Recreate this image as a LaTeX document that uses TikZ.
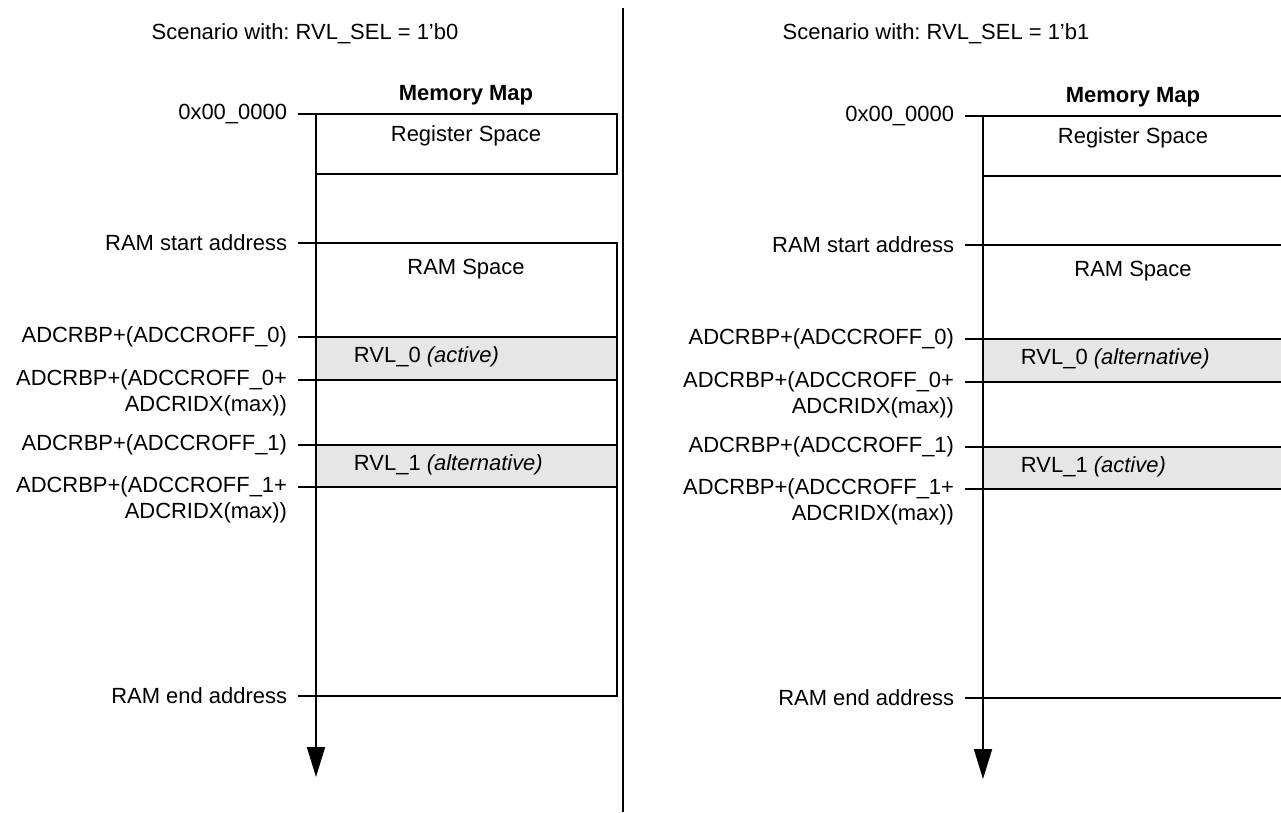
\documentclass[tikz,border=0pt]{standalone}
\usepackage{fontspec}
\setmainfont{Liberation Sans}
\usetikzlibrary{positioning,arrows.meta}
\definecolor{rvlgray}{HTML}{E6E6E6}
\frenchspacing

\begin{document}
\begin{tikzpicture}[x=0.02cm,y=-0.02cm,line width=1.1pt,
  font=\fontsize{12.5}{15}\selectfont,
  addr/.style={anchor=east,inner sep=0pt},
  addrnext/.style={anchor=north east,inner sep=0pt},
  rvltext/.style={anchor=west,inner sep=0pt},
  axisarrow/.style={-{Triangle[width=0.36cm,length=0.6cm]}}]

\clip (0,0) rectangle (1281,812);

% Scenario titles
\node (ttl0) at (305,34) {Scenario with: RVL\_SEL = 1'b0};
\node (ttl1) at (936,34) {Scenario with: RVL\_SEL = 1'b1};

% Divider
\draw (623,8) -- (623,812);

\foreach \p/\dx/\dy/\stA/\stB in {0/0/0/active/alternative,1/667/2/alternative/active}{
\begin{scope}[shift={(\dx,\dy)}]

  % Memory map heading
  \node[font=\fontsize{12.5}{15}\selectfont\bfseries] (mm\p) at (466,95) {Memory Map};

  % Regions
  \draw (316,114) rectangle (617,174);
  \draw (316,243) rectangle (617,696);
  \draw[fill=rvlgray] (316,337) rectangle (617,380);
  \draw[fill=rvlgray] (316,445) rectangle (617,487);

  \node (reg\p) at (466,136) {Register Space};
  \node (ram\p) at (466,269) {RAM Space};
  \node[rvltext] (rvla\p) at (353,357) {RVL\_0 \textit{(\stA)}};
  \node[rvltext] (rvlb\p) at (353,465) {RVL\_1 \textit{(\stB)}};

  % Address labels
  \node[addr] (aa\p) at (288,114) {0x00\_0000};
  \node[addr] (ab\p) at (288,243) {RAM start address};
  \node[addr] (ac\p) at (288,337) {ADCRBP+(ADCCROFF\_0)};
  \node[addr] (ad\p) at (288,380) {ADCRBP+(ADCCROFF\_0+};
  \node[addrnext] (adx\p) at ([yshift=-2pt]ad\p.south east) {ADCRIDX(max))};
  \node[addr] (ae\p) at (288,445) {ADCRBP+(ADCCROFF\_1)};
  \node[addr] (af\p) at (288,487) {ADCRBP+(ADCCROFF\_1+};
  \node[addrnext] (afx\p) at ([yshift=-2pt]af\p.south east) {ADCRIDX(max))};
  \node[addr] (ag\p) at (288,696) {RAM end address};

  % Ticks
  \foreach \n in {aa,ab,ac,ad,ae,af,ag}
    \draw (\n\p.east) ++(10,0) -- ++(35,0);

  % Address axis
  \coordinate (top\p) at (316,114);
  \coordinate (end\p) at (316,777);
  \draw[axisarrow] (top\p) -- (end\p);

\end{scope}
}

\end{tikzpicture}
\end{document}
